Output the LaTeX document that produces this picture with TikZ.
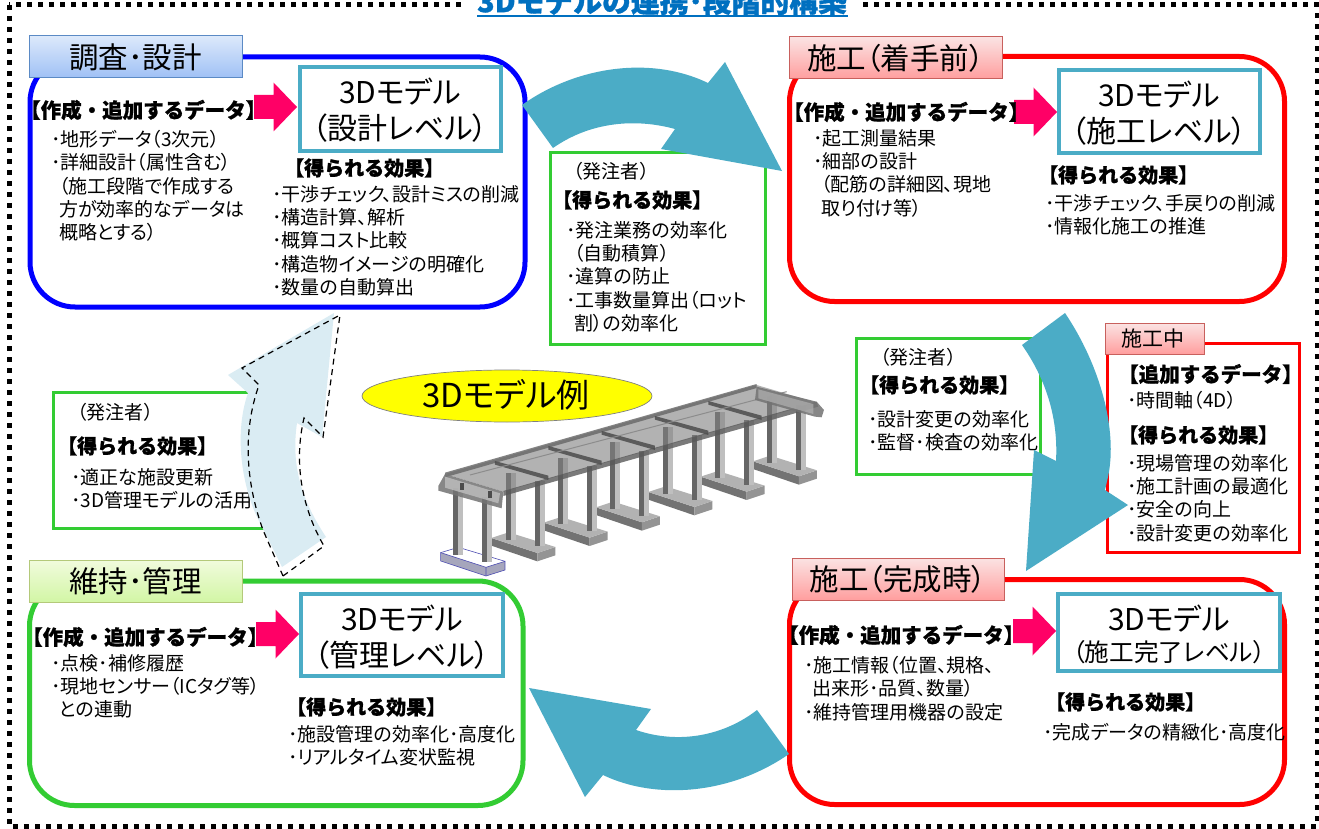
\documentclass[tikz,border=0pt]{standalone}
\usepackage{fontspec}
\setmainfont{Noto Sans CJK JP}[RawFeature={+palt}]
\newfontfamily\hv{Noto Sans CJK JP Black}[FakeBold=1]
\usetikzlibrary{calc}
\definecolor{teal}{HTML}{4BACC6}
\definecolor{pale}{HTML}{DAECF3}
\definecolor{gr}{HTML}{33CC33}
\definecolor{pinkar}{HTML}{FF0066}
\definecolor{titleb}{HTML}{0070C0}
\definecolor{pblue}{HTML}{0000FF}
\definecolor{pred}{HTML}{FF0000}
\definecolor{pyel}{HTML}{FFFF00}
\tikzset{
 panel/.style={draw=#1,line width=5pt,rounded corners=45pt,fill=white},
 modelbox/.style={draw=teal,line width=3.5pt,fill=white},
 tbox/.style={draw=gr,line width=3pt,fill=white},
 ptr/.style={fill=pinkar,draw=none},
 bigar/.style={fill=teal,draw=none},
 bodytx/.style={anchor=north west,inner sep=0pt,align=left,font=\fontsize{19}{23.3}\selectfont},
 headtx/.style={anchor=west,inner sep=0pt,font=\fontsize{20.5}{22}\selectfont\hv},
 efftx/.style={anchor=west,inner sep=0pt,font=\fontsize{20}{22}\selectfont\hv},
 modeltx/.style={anchor=center,inner sep=0pt,align=center,font=\fontsize{30}{36}\selectfont},
}
\definecolor{HB}{HTML}{5B8AC5}\definecolor{HBt}{HTML}{DCE9FB}\definecolor{HBb}{HTML}{9FC0F5}
\definecolor{PB}{HTML}{C8605D}\definecolor{PBt}{HTML}{FBE3E3}\definecolor{PBb}{HTML}{FF9E9E}
\definecolor{GB}{HTML}{B4C97A}\definecolor{GBt}{HTML}{F1FBDD}\definecolor{GBb}{HTML}{D2F6A5}
\newcommand{\hdbox}[7]{% name x1 y1 x2 y2 prefix text
 \path[draw=#6,line width=1pt,top color=#6t,bottom color=#6b] (#2,#3) rectangle (#4,#5);
 \node[inner sep=0pt,font=\fontsize{29.5}{30}\selectfont] (#1) at ({(#2+#4)/2},{(#3+#5)/2}) {#7};}
\newcommand{\ptrshape}[2]{% x y-centre
 \fill[ptr] (#1,#2-12) -- ++(19.5,0) -- ++(0,-12.5) -- (#1+43,#2) -- (#1+19.5,#2+24.5) -- ++(0,-12.5) -- (#1,#2+12) -- cycle;}
\begin{document}
\begin{tikzpicture}[x=1pt,y=-1pt]
\useasboundingbox (0,0) rectangle (1319,829);
\clip (0,0) rectangle (1319,829);
\fill[white] (0,0) rectangle (1319,829);
% outer border
\draw[line width=5pt,dash pattern=on 5pt off 6pt] (9,5) rectangle (1317,826);
% title
\fill[white] (462,-2) rectangle (858,22);
\node[inner sep=0pt,text=titleb,font=\fontsize{28.8}{30}\selectfont\hv] (title) at (662,1) {3Dモデルの連携･段階的構築};
\draw[titleb,line width=1.6pt] (477,16) -- (848,16);
% panels
\draw[panel=pblue] (30,57) rectangle (525,307);
\draw[panel=pred] (789.5,56.5) rectangle (1284.5,301.5);
\draw[panel=gr] (29.5,581) rectangle (523,805.5);
\draw[panel=pred] (789.5,579.5) rectangle (1284.5,804.5);
% small green boxes
\draw[tbox] (550,153) rectangle (765,344);
\draw[tbox] (856,338) rectangle (1040,474);
\draw[tbox] (53,392) rectangle (270,528);
% during construction
\draw[draw=pred,line width=3pt,fill=white] (1107,343) rectangle (1299,552);
% headers
\hdbox{h1}{29}{36}{242}{78}{HB}{調査･設計}
\hdbox{h2}{789}{37}{1002}{79}{PB}{施工（着手前）}
\hdbox{h3}{29}{560}{242}{602}{GB}{維持･管理}
\hdbox{h4}{792}{558}{1004}{600}{PB}{施工（完成時）}
\path[draw=PB,line width=1pt,top color=PBt,bottom color=PBb] (1105,323) rectangle (1204,354);
\node[inner sep=0pt,font=\fontsize{21}{24}\selectfont] (h5) at (1153,339) {施工中};
% model boxes
\draw[modelbox] (300,67) rectangle (501,151);
\draw[modelbox] (1059,70) rectangle (1260,153);
\draw[modelbox] (301,594) rectangle (503,676);
\draw[modelbox] (1058,594) rectangle (1280,671);
\node[modeltx] (m1) at (400,110) {3Dモデル\\（設計レベル）};
\node[modeltx] (m2) at (1159,113) {3Dモデル\\（施工レベル）};
\node[modeltx] (m3) at (402,637) {3Dモデル\\（管理レベル）};
\node[inner sep=0pt,font=\fontsize{30}{30}\selectfont] (m4) at (1169,619) {3Dモデル};
\node[inner sep=0pt,font=\fontsize{24.6}{26}\selectfont] (m4b) at (1169,652) {（施工完了レベル）};
% pink arrows
\ptrshape{254}{107}
\ptrshape{1014}{112}
\ptrshape{256}{634}
\ptrshape{1013}{631}
% blue panel text
\node[headtx] (a1) at (20,110) {【作成・追加するデータ】};
\node[bodytx] (a2) at (51,130) {･地形データ（3次元）\\･詳細設計（属性含む）\\\hspace{8pt}（施工段階で作成する\\\hspace{8pt}方が効率的なデータは\\\hspace{8pt}概略とする）};
\node[efftx] (a3) at (284,168) {【得られる効果】};
\node[bodytx] (a4) at (272,185) {･干渉チェック、設計ミスの削減\\･構造計算、解析\\･概算コスト比較\\･構造物イメージの明確化\\･数量の自動算出};
% red top text
\node[headtx] (b1) at (783,112) {【作成・追加するデータ】};
\node[bodytx] (b2) at (813,129) {･起工測量結果\\･細部の設計\\\hspace{8pt}（配筋の詳細図、現地\\\hspace{8pt}取り付け等）};
\node[efftx] (b3) at (1038,175) {【得られる効果】};
\node[bodytx] (b4) at (1045,194) {･干渉チェック、手戻りの削減\\･情報化施工の推進};
% green text
\node[headtx] (c1) at (22,637) {【作成・追加するデータ】};
\node[bodytx] (c2) at (51,654) {･点検･補修履歴\\･現地センサー（ICタグ等）\\\hspace{8pt}との連動};
\node[efftx] (c3) at (286,707) {【得られる効果】};
\node[bodytx] (c4) at (288,725) {･施設管理の効率化･高度化\\･リアルタイム変状監視};
% red bottom text
\node[headtx] (d1) at (778,635) {【作成・追加するデータ】};
\node[bodytx] (d2) at (804,656) {･施工情報（位置、規格、\\\hspace{8pt}出来形･品質、数量）\\･維持管理用機器の設定};
\node[efftx] (d3) at (1045,702) {【得られる効果】};
\node[bodytx] (d4) at (1043,723) {･完成データの精緻化･高度化};
% orderer boxes
\node[bodytx] (e1) at (573,162) {（発注者）};
\node[efftx] (e2) at (552,200) {【得られる効果】};
\node[bodytx] (e3) at (566,221) {･発注業務の効率化\\\hspace{8pt}（自動積算）\\･違算の防止\\･工事数量算出（ロット\\\hspace{8pt}割）の効率化};
\node[bodytx] (f1) at (880,348) {（発注者）};
\node[efftx] (f2) at (859,385) {【得られる効果】};
\node[bodytx] (f3) at (868,410) {･設計変更の効率化\\･監督･検査の効率化};
\node[bodytx] (g1) at (77,403) {（発注者）};
\node[efftx] (g2) at (57,446) {【得られる効果】};
\node[bodytx] (g3) at (71,468) {･適正な施設更新\\･3D管理モデルの活用};
% during construction text
\node[headtx] (k1) at (1118,374) {【追加するデータ】};
\node[bodytx] (k2) at (1127,391) {･時間軸（4D）};
\node[efftx] (k3) at (1118,435) {【得られる効果】};
\node[bodytx] (k4) at (1127,454) {･現場管理の効率化\\･施工計画の最適化\\･安全の向上\\･設計変更の効率化};
% big arrows
\fill[bigar] (522,105) .. controls (575,67) and (650,55) .. (708,83) -- (725,62) -- (782,171) -- (661,149) -- (675,129) .. controls (635,118) and (590,122) .. (553,148) -- cycle;
\fill[bigar] (1065,313) .. controls (1100,365) and (1118,430) .. (1108,477) -- (1105,490) -- (1128,505) -- (1026,571) -- (1034,450) -- (1056,461) .. controls (1058,425) and (1050,385) .. (1022,345) -- cycle;
\fill[bigar] (789,754) .. controls (730,795) and (655,800) .. (603,775) -- (585,797) -- (529,688) -- (651,709) -- (636,730) .. controls (680,745) and (725,735) .. (757,710) -- cycle;
\fill[pale] (282,567) -- (326,537) .. controls (305,505) and (290,470) .. (297,423) -- (322,437) -- (334,313) -- (228,375) -- (248,393) .. controls (235,430) and (240,480) .. (257,517) -- cycle;
\draw[black,line width=1.2pt,dash pattern=on 6pt off 4.5pt] (283,576) -- (324,546) .. controls (303,510) and (293,465) .. (304,418) -- (323,437) -- (340,315) -- (242,368) -- (259,385) .. controls (243,430) and (245,480) .. (263,530) -- cycle;
% ellipse
\draw[draw=gray,line width=.7pt,fill=pyel] (507,396) ellipse [x radius=145,y radius=26];
\node[inner sep=0pt,font=\fontsize{33}{36}\selectfont] (ex) at (506,395) {3Dモデル例};
% bridge
\begin{scope}[shift={(420,360)},x=0.3333pt,y=-0.3333pt]
 \foreach \i in {6,5,...,1}{
  \begin{scope}[shift={(\i*157-3,-\i*46)}]
   \fill[black!55] (60,580) -- (198,625) -- (198,650) -- (60,603) -- cycle;
   \fill[black!42] (198,625) -- (252,607) -- (252,632) -- (198,650) -- cycle;
   \fill[black!30] (60,580) -- (112,563) -- (252,607) -- (198,625) -- cycle;
  \end{scope}
 }
 \fill[blue!25!black!35,draw=blue!40!gray,line width=.6pt] (62,578) -- (198,622) -- (255,604) -- (255,630) -- (198,648) -- (62,603) -- cycle;
 \draw[blue!40!gray,line width=.6pt] (62,578) -- (115,562) -- (255,604) (198,622) -- (198,648);
 \foreach \i in {6,5,...,0}{
  \begin{scope}[shift={(\i*157,-\i*46)}]
   \fill[black!60] (100,385) rectangle (115,585);
   \fill[black!25] (115,385) rectangle (130,585);
   \fill[black!60] (187,410) rectangle (202,605);
   \fill[black!25] (202,410) rectangle (217,605);
  \end{scope}
 }
 % deck
 \fill[black!50,fill opacity=.6] (75,342) -- (1010,75) -- (1190,128) -- (250,395) -- cycle;
 \fill[black!60,fill opacity=.8] (75,338) -- (1010,72) -- (1010,84) -- (75,352) -- cycle;
 \fill[black!65,fill opacity=.8] (250,393) -- (1190,125) -- (1195,140) -- (250,408) -- cycle;
 \foreach \k in {0,1,2,3,4}{
  \fill[black!70,fill opacity=.85] ({225+\k*160},{303-\k*45}) -- ({385+\k*160},{347-\k*45}) -- ({385+\k*160},{360-\k*45}) -- ({225+\k*160},{314-\k*45}) -- cycle;
 }
 \draw[black!45,line width=1pt] (150,345) -- (1100,95);
 \fill[black!55,fill opacity=.85] (55,378) -- (75,342) -- (250,395) -- (245,445) -- (55,392) -- cycle;
 \fill[black!25,fill opacity=.8] (75,350) -- (240,400) -- (235,430) -- (75,383) -- cycle;
 \fill[black!70] (120,368) rectangle (132,390);
 \fill[black!70] (205,392) rectangle (217,414);
 \fill[black!55,fill opacity=.85] (1010,80) -- (1190,125) -- (1212,150) -- (1205,172) -- (1185,170) -- (1005,120) -- cycle;
 \fill[black!30,fill opacity=.7] (1015,88) -- (1180,132) -- (1180,162) -- (1015,115) -- cycle;
\end{scope}
\end{tikzpicture}
\end{document}
